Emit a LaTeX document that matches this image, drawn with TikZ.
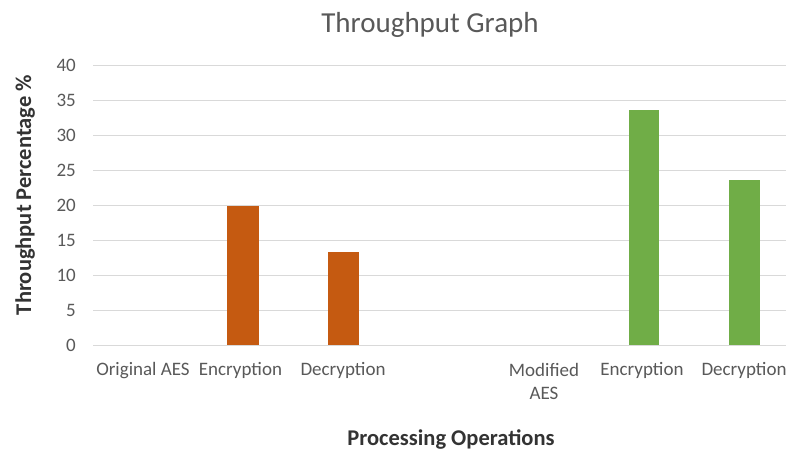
\documentclass[tikz,border=0pt]{standalone}
\usepackage{fontspec}
\setmainfont{Carlito}
\definecolor{gridc}{HTML}{D9D9D9}
\definecolor{txtc}{HTML}{595959}
\definecolor{axtc}{HTML}{333333}
\definecolor{orangebar}{HTML}{C55A11}
\definecolor{greenbar}{HTML}{70AD47}
\tikzset{
  gridline/.style={draw=gridc, line width=1.2pt},
  ticklbl/.style={text=txtc, anchor=east, inner sep=0pt, font=\fontsize{19}{23}\selectfont},
  catlbl/.style={text=txtc, anchor=base, inner sep=0pt, align=center, font=\fontsize{19}{23}\selectfont},
  axtitle/.style={text=axtc, inner sep=0pt, font=\fontsize{22.5}{26}\selectfont\bfseries},
  charttitle/.style={text=txtc, anchor=base, inner sep=0pt, font=\fontsize{29}{34}\selectfont},
}
\newcommand{\yv}[1]{345.3-6.99*#1}
\begin{document}
\begin{tikzpicture}[x=1pt,y=-1pt]
\useasboundingbox (0,0) rectangle (787,450);
\fill[white] (0,0) rectangle (787,450);
% gridlines and tick labels
\foreach \v in {0,5,...,40}{
  \draw[gridline] (93,{\yv{\v}}) -- (786,{\yv{\v}});
  \node[ticklbl] (t\v) at (76,{\yv{\v}}) {\v};
}
% bars
\fill[orangebar] (227.2,{\yv{20}}) rectangle (258.8,{\yv{0}});
\fill[orangebar] (327.7,{\yv{13.3}}) rectangle (359.3,{\yv{0}});
\fill[greenbar] (628.6,{\yv{33.6}}) rectangle (659.4,{\yv{0}});
\fill[greenbar] (729.2,{\yv{23.7}}) rectangle (760,{\yv{0}});
% category labels
\node[catlbl] (c1) at (143,375) {Original AES};
\node[catlbl] (c2) at (240.5,375) {Encryption};
\node[catlbl] (c3) at (343,375) {Decryption};
\node[catlbl] (c5) at (544,399) {Modified\\AES};
\node[catlbl] (c6) at (642,375) {Encryption};
\node[catlbl] (c7) at (744,375) {Decryption};
% titles
\node[charttitle] (title) at (430,32) {Throughput Graph};
\node[axtitle, anchor=base] (xt) at (451,445) {Processing Operations};
\node[axtitle, anchor=base, rotate=90] (yt) at (31,195) {Throughput Percentage \%};
\end{tikzpicture}
\end{document}
